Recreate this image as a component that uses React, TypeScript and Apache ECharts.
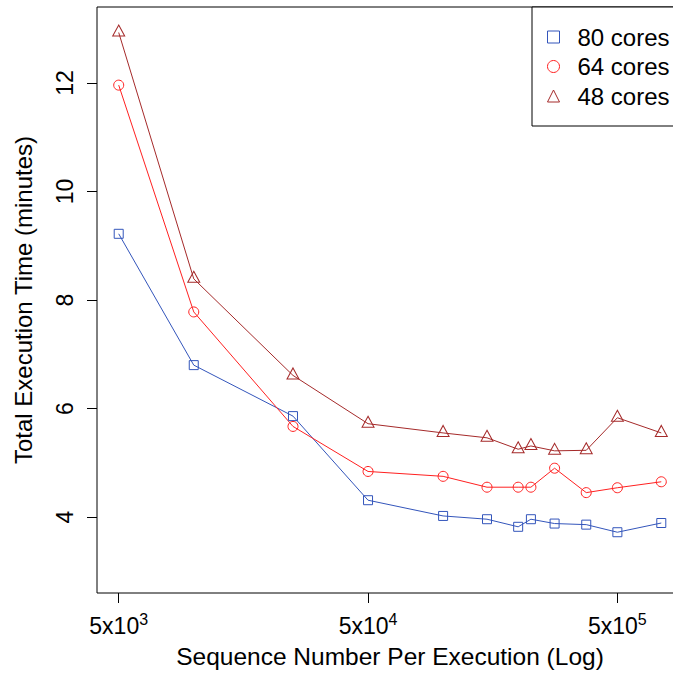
import React, { useEffect, useRef } from 'react';
import * as echarts from 'echarts';

const seqNumbers = [5000, 10000, 25000, 50000, 100000, 150000, 200000, 225000, 280000, 375000, 500000, 750000];
const cores80 = [9.22, 6.8, 5.86, 4.31, 4.02, 3.96, 3.82, 3.96, 3.88, 3.86, 3.72, 3.89];
const cores64 = [11.96, 7.78, 5.67, 4.84, 4.75, 4.55, 4.55, 4.55, 4.9, 4.45, 4.54, 4.65];
const cores48 = [12.93, 8.39, 6.61, 5.72, 5.55, 5.46, 5.25, 5.31, 5.22, 5.23, 5.83, 5.55];
const xTickValues = [5000, 50000, 500000];
const yTickValues = [4, 6, 8, 10, 12];
const seriesNames = ['80 cores', '64 cores', '48 cores'];
const seriesColors = ['#3355bb', '#ff2020', '#a52a2a'];
const yLimits = [3, 13];

const FONT = '"Liberation Sans", Arial, Helvetica, sans-serif';

export default function App() {
  const ref = useRef<HTMLDivElement>(null);
  useEffect(() => {
    if (!ref.current) return;
    const chart = echarts.init(ref.current, null, { renderer: 'svg' });
    const lo = Math.log10(seqNumbers[0]);
    const hi = Math.log10(seqNumbers[seqNumbers.length - 1]);
    const pad = 0.04 * (hi - lo);
    const xMinLog = lo - pad;
    const xMaxLog = hi + pad;
    const yPad = 0.04 * (yLimits[1] - yLimits[0]);
    const yMin = yLimits[0] - yPad;
    const yMax = yLimits[1] + yPad;
    const log5 = Math.log10(5);

    const mk = (name: string, vals: number[], color: string, symbol: string, size: any, offset: any) => ({
      name,
      type: 'line',
      xAxisIndex: 0,
      yAxisIndex: 0,
      data: seqNumbers.map((x, i) => [x, vals[i]]),
      symbol,
      symbolSize: size,
      symbolOffset: offset,
      showSymbol: true,
      lineStyle: { color, width: 1 },
      itemStyle: { color: 'rgba(255,255,255,0)', borderColor: color, borderWidth: 1 },
      emphasis: { disabled: true },
      z: 3,
    });

    chart.setOption({
      animation: false,
      backgroundColor: '#fff',
      textStyle: { fontFamily: FONT },
      grid: {
        left: 97,
        top: 7,
        width: 586,
        height: 586,
        containLabel: false,
        outerBoundsMode: 'none',
        show: true,
        borderColor: '#000',
        borderWidth: 1,
        backgroundColor: 'transparent',
      },
      legend: {
        left: 532,
        top: 7,
        orient: 'vertical',
        padding: [18, 60, 18, 15],
        itemGap: 5.5,
        itemWidth: 12,
        itemHeight: 12,
        borderColor: '#000',
        borderWidth: 1,
        backgroundColor: '#fff',
        borderRadius: 0,
        selectedMode: false,
        textStyle: { fontSize: 24, lineHeight: 24, color: '#000', fontFamily: FONT, padding: [0, 0, 0, 13] },
        data: [
          { name: seriesNames[0], icon: 'rect', itemStyle: { color: '#fff', borderColor: seriesColors[0], borderWidth: 1 } },
          { name: seriesNames[1], icon: 'circle', itemStyle: { color: '#fff', borderColor: seriesColors[1], borderWidth: 1 } },
          { name: seriesNames[2], icon: 'triangle', itemStyle: { color: '#fff', borderColor: seriesColors[2], borderWidth: 1 } },
        ],
        z: 10,
      },
      xAxis: [
        {
          type: 'log',
          logBase: 10,
          min: Math.pow(10, xMinLog),
          max: Math.pow(10, xMaxLog),
          show: true,
          axisLine: { show: false },
          axisTick: { show: false },
          axisLabel: { show: false },
          splitLine: { show: false },
        },
        {
          type: 'value',
          position: 'bottom',
          min: xMinLog,
          max: xMaxLog,
          axisLine: { show: false },
          splitLine: { show: false },
          axisTick: {
            show: true,
            inside: false,
            length: 10,
            lineStyle: { color: '#000', width: 1 },
            customValues: xTickValues.map((v) => Math.log10(v)),
          },
          axisLabel: {
            show: true,
            margin: 18,
            customValues: xTickValues.map((v) => Math.log10(v)),
            formatter: (v: number) => `{b|5x10}{s|${Math.round(v - log5)}}`,
            rich: {
              b: { fontSize: 23, color: '#000', fontFamily: FONT, verticalAlign: 'bottom' },
              s: { fontSize: 16, color: '#000', fontFamily: FONT, verticalAlign: 'bottom', padding: [0, 0, 10, 0] },
            },
          },
          name: 'Sequence Number Per Execution (Log)',
          nameLocation: 'middle',
          nameGap: 51,
          nameTextStyle: { fontSize: 24.5, color: '#000', fontFamily: FONT },
        },
      ],
      yAxis: {
        type: 'value',
        min: yMin,
        max: yMax,
        axisLine: { show: false },
        splitLine: { show: false },
        axisTick: {
          show: true,
          inside: false,
          length: 10,
          lineStyle: { color: '#000', width: 1 },
          customValues: yTickValues,
        },
        axisLabel: {
          show: true,
          rotate: 90,
          margin: 21,
          fontSize: 23,
          color: '#000',
          fontFamily: FONT,
          customValues: yTickValues,
        },
        name: 'Total Execution Time (minutes)',
        nameLocation: 'middle',
        nameRotate: 90,
        nameGap: 62,
        nameTextStyle: { fontSize: 24, color: '#000', fontFamily: FONT },
      },
      series: [
        mk(seriesNames[0], cores80, seriesColors[0], 'rect', 9, [0, 0]),
        mk(seriesNames[1], cores64, seriesColors[1], 'circle', 10, [0, 0]),
        mk(seriesNames[2], cores48, seriesColors[2], 'triangle', [12, 11], [0, -2]),
      ],
    });
    return () => chart.dispose();
  }, []);

  return (
    <div style={{ position: 'absolute', left: 0, top: 0, width: 673, height: 674, overflow: 'hidden', background: '#fff' }}>
      <div ref={ref} style={{ width: 720, height: 674 }} />
    </div>
  );
}
